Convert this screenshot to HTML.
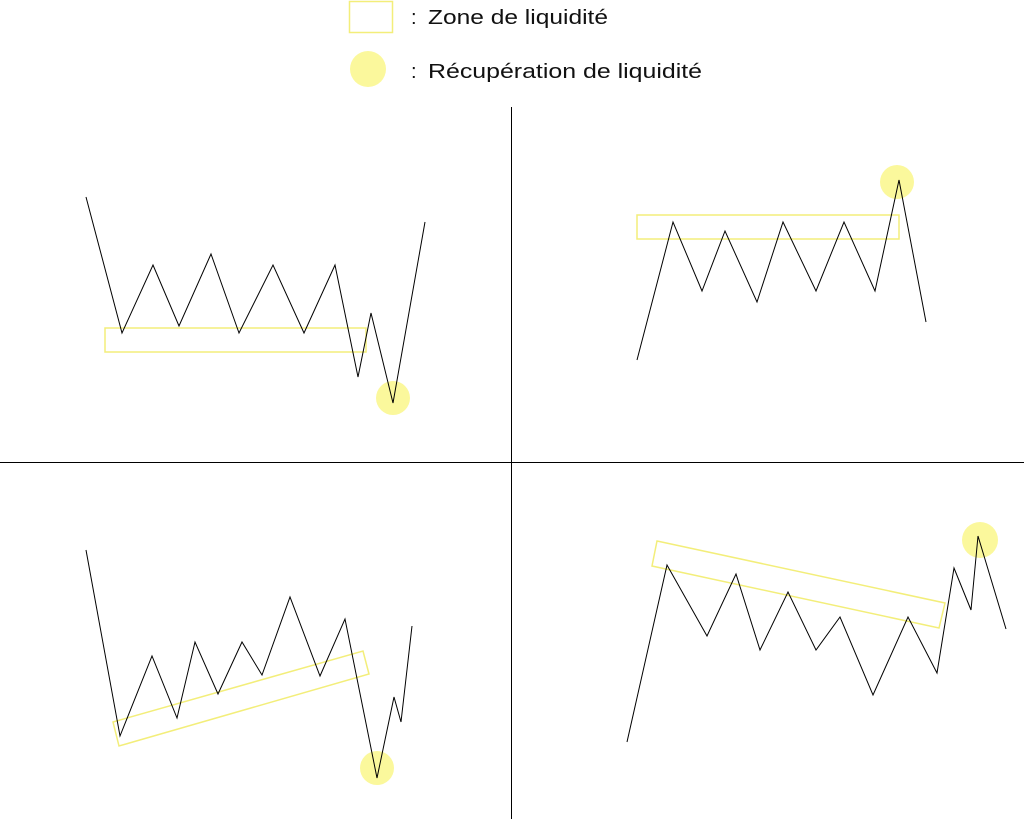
<!DOCTYPE html>
<html><head><meta charset="utf-8"><style>html,body{margin:0;padding:0;background:#fff}svg{display:block}</style></head>
<body>
<svg width="1024" height="819" viewBox="0 0 1024 819" xmlns="http://www.w3.org/2000/svg">
<rect width="1024" height="819" fill="#fff"/>
<!-- legend -->
<rect x="349.5" y="1.5" width="43" height="31" fill="none" stroke="#f3ee7a" stroke-width="1.5"/>
<text x="411" y="24" font-family="Liberation Sans, sans-serif" font-size="20" fill="#111">:</text>
<text x="428" y="24" font-family="Liberation Sans, sans-serif" font-size="20" fill="#111" textLength="180" lengthAdjust="spacingAndGlyphs">Zone de liquidité</text>
<circle cx="368" cy="69" r="18" fill="#fbf89c"/>
<text x="411" y="78" font-family="Liberation Sans, sans-serif" font-size="20" fill="#111">:</text>
<text x="428" y="78" font-family="Liberation Sans, sans-serif" font-size="20" fill="#111" textLength="274" lengthAdjust="spacingAndGlyphs">Récupération de liquidité</text>
<!-- axes -->
<line x1="511.5" y1="107" x2="511.5" y2="819" stroke="#000" stroke-width="1"/>
<line x1="0" y1="462.5" x2="1024" y2="462.5" stroke="#000" stroke-width="1"/>
<g fill="none" stroke-width="1.5" stroke="#f3ee7a">
<rect x="105" y="328" width="261" height="24"/>
<rect x="637" y="215" width="262" height="24"/>
<polygon points="113,722 363,651 369,674 119,746"/>
<polygon points="657,541 945,603 939,628 652,566"/>
</g>
<g fill="#fbf89c">
<circle cx="393" cy="398" r="17"/>
<circle cx="897" cy="182" r="17"/>
<circle cx="377" cy="768" r="17"/>
<circle cx="980" cy="540" r="18"/>
</g>
<g fill="none" stroke="#000" stroke-width="1">
<polyline points="86,197 122,333 153,265 179,326 211,254 239,333 273,265 304,333 335,265 358,377 371,313 393,403 425,222"/>
<polyline points="637,360 673,222 702,291 725,231 757,302 783,222 816,291 844,222 875,291 899,180 926,322"/>
<polyline points="86,550 120,736 152,656 177,718 195,642 218,694 242,642 262,675 290,597 320,676 345,619 377,778 394,697 401,722 412,626"/>
<polyline points="627,742 667,565 707,636 736,574 760,650 788,592 816,650 840,617 873,695 908,617 937,673 954,568 971,610 978,536 1006,629"/>
</g>
</svg>
</body></html>
